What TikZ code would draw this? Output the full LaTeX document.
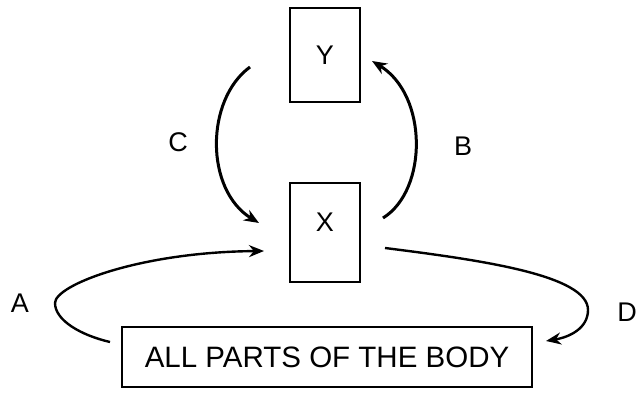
\documentclass[tikz,border=0pt]{standalone}
\usepackage{fontspec}
\setmainfont{Liberation Sans}
\usetikzlibrary{arrows.meta}
\begin{document}
\begin{tikzpicture}[x=1pt,y=-1pt,
  organbox/.style={draw,line width=2pt,inner sep=0pt},
  lbl/.style={font=\fontsize{27}{27}\selectfont,inner sep=0pt},
  flow/.style={line width=3pt,-{Stealth[length=15pt,width=12pt]}},
  thinflow/.style={line width=2.4pt,-{Stealth[length=15pt,width=12pt]}}]
\useasboundingbox (0,0) rectangle (637,396);
% boxes
\node[organbox,minimum width=70pt,minimum height=94pt] (ybox) at (325,55) {};
\node[lbl] (ytext) at (325,55) {Y};
\node[organbox,minimum width=70pt,minimum height=99pt] (xbox) at (325,232.5) {};
\node[lbl] (xtext) at (325,222) {X};
\node[organbox,minimum width=410pt,minimum height=60pt,
      font=\fontsize{29.5}{29.5}\selectfont] (body) at (327,357) {ALL PARTS OF THE BODY};
% connector end points
\coordinate (cs) at (250,67);
\coordinate (ce) at (259,223);
\coordinate (bs) at (383,218);
\coordinate (be) at (372,61);
\coordinate (as) at (110,342);
\coordinate (ae) at (264,251);
\coordinate (ds) at (385,248);
\coordinate (de) at (546,341);
% connectors
\draw[flow] (cs) .. controls (205,100) and (205,190) .. (ce);
\draw[flow] (bs) .. controls (428,190) and (428,95) .. (be);
\draw[thinflow] (as) .. controls (80,335) and (55,320) .. (55,303)
   .. controls (55,285) and (140,252) .. (ae);
\draw[thinflow] (ds) .. controls (480,260) and (588,275) .. (588,310)
   .. controls (588,328) and (570,337) .. (de);
% labels
\node[lbl] (clabel) at (178,142) {C};
\node[lbl] (blabel) at (463,146) {B};
\node[lbl] (alabel) at (20,303) {A};
\node[lbl] (dlabel) at (627,312) {D};
\end{tikzpicture}
\end{document}
